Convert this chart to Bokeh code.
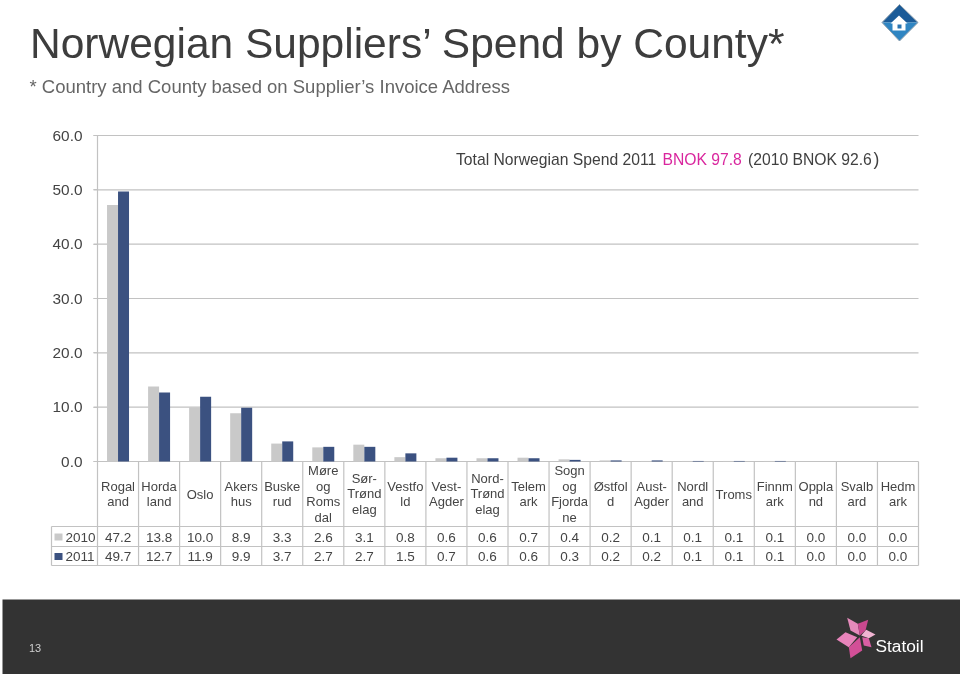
from bokeh.plotting import figure
from bokeh.models import Range1d, LinearAxis, FixedTicker, NumeralTickFormatter
from bokeh.core.properties import value
from bokeh.embed import file_html
from bokeh.resources import INLINE

counties = ["Rogal\nand", "Horda\nland", "Oslo", "Akers\nhus", "Buske\nrud", "Møre\nog\nRoms\ndal",
            "Sør-\nTrønd\nelag", "Vestfo\nld", "Vest-\nAgder", "Nord-\nTrønd\nelag", "Telem\nark",
            "Sogn\nog\nFjorda\nne", "Østfol\nd", "Aust-\nAgder", "Nordl\nand", "Troms", "Finnm\nark",
            "Oppla\nnd", "Svalb\nard", "Hedm\nark"]
v2010 = [47.2, 13.8, 10.0, 8.9, 3.3, 2.6, 3.1, 0.8, 0.6, 0.6, 0.7, 0.4, 0.2, 0.1, 0.1, 0.1, 0.1, 0.0, 0.0, 0.0]
v2011 = [49.7, 12.7, 11.9, 9.9, 3.7, 2.7, 2.7, 1.5, 0.7, 0.6, 0.6, 0.3, 0.2, 0.2, 0.1, 0.1, 0.1, 0.0, 0.0, 0.0]
y_ticks = [0, 10, 20, 30, 40, 50, 60]
series_names = ["2010", "2011"]

W, H = 960, 674
PX0, STEP = 97.0, 41.05      # page x of first category edge, width of a category
PY0, UNIT = 461.0, 5.433     # page y of value 0, pixels per value unit
C10, C11 = "#c9c9c9", "#3b5180"
LINE = "#c2c2c2"
TXT = "#454545"
FONT = "Liberation Sans"

p = figure(width=W, height=H, output_backend="svg", toolbar_location=None,
           x_range=Range1d(-PX0 / STEP, (W - PX0) / STEP),
           y_range=Range1d((PY0 - H) / UNIT, PY0 / UNIT),
           min_border=0, min_border_left=0, min_border_right=0, min_border_top=0, min_border_bottom=0,
           x_axis_type=None, y_axis_type=None, outline_line_color=None)
p.styles = {"position": "fixed", "left": "0px", "top": "0px"}
p.grid.visible = False
p.extra_x_ranges["px"] = Range1d(0, W)
p.extra_y_ranges["px"] = Range1d(H, 0)
PXK = dict(x_range_name="px", y_range_name="px")

def txt(x, y, s, size, color, align="left", base="middle", **kw):
    p.text(x=[x], y=[y], text=[s], text_font=value(FONT), text_font_size=f"{size}px",
           text_color=color, text_align=align, text_baseline=base, **PXK, **kw)

# grid lines (y in values, x in page pixels)
p.segment(x0=[93] * len(y_ticks), x1=[918] * len(y_ticks), y0=y_ticks, y1=y_ticks,
          line_color=LINE, line_width=1.2, x_range_name="px")

# bars
n = len(counties)
bw = 11.0 / STEP
p.vbar(x=[i + 0.5 - bw / 2 for i in range(n)], top=v2010, bottom=0, width=bw, fill_color=C10, line_color=None)
p.vbar(x=[i + 0.5 + bw / 2 for i in range(n)], top=v2011, bottom=0, width=bw, fill_color=C11, line_color=None)

# y axis
ax = LinearAxis(fixed_location=0, bounds=(0, 60), ticker=FixedTicker(ticks=y_ticks),
                formatter=NumeralTickFormatter(format="0.0"),
                axis_line_color=LINE, axis_line_width=1.2, major_tick_line_color=LINE, major_tick_in=0,
                major_tick_out=4, minor_tick_line_color=None, major_label_standoff=11,
                major_label_text_font=FONT, major_label_text_font_size="15.4px",
                major_label_text_color="#444444")
p.add_layout(ax, "left")

# data table
T0, T1, T2, T3 = PY0, 526, 546, 565
edges = [PX0 + STEP * i for i in range(n + 1)]
p.segment(x0=edges, x1=edges, y0=[T0] * (n + 1), y1=[T3] * (n + 1), line_color=LINE, line_width=1.2, **PXK)
p.segment(x0=[51, 51, 51], x1=[918] * 3, y0=[T1, T2, T3], y1=[T1, T2, T3], line_color=LINE, line_width=1.2, **PXK)
p.segment(x0=[51], x1=[51], y0=[T1], y1=[T3], line_color=LINE, line_width=1.2, **PXK)
cx = [PX0 + STEP * (i + 0.5) for i in range(n)]
p.text(x=cx, y=[493.5] * n, text=counties, text_font=value(FONT), text_font_size="13px", text_color=TXT,
       text_align="center", text_baseline="middle", text_line_height=1.04, **PXK)
p.text(x=cx, y=[536.5] * n, text=[f"{v:.1f}" for v in v2010], text_font=value(FONT), text_font_size="13.5px",
       text_color=TXT, text_align="center", text_baseline="middle", **PXK)
p.text(x=cx, y=[556] * n, text=[f"{v:.1f}" for v in v2011], text_font=value(FONT), text_font_size="13.5px",
       text_color=TXT, text_align="center", text_baseline="middle", **PXK)
p.quad(left=[54, 54], right=[62, 62], top=[533, 552.5], bottom=[540, 559.5], fill_color=[C10, C11], line_color=None, **PXK)
txt(65, 536.5, series_names[0], 13.5, TXT)
txt(65, 556, series_names[1], 13.5, TXT)

# titles
txt(29.5, 42.5, "Norwegian Suppliers’ Spend by County*", 42.5, "#3d3d3d")
txt(29, 86, "* Country and County based on Supplier’s Invoice Address", 18.5, "#666666")

# annotation
txt(455.5, 159, "Total Norwegian Spend 2011", 15.7, "#404040")
txt(662, 159, "BNOK 97.8", 15.7, "#d9269e")
txt(747.5, 159, "(2010 BNOK 92.6", 15.7, "#404040")
txt(873, 158.5, ")", 17.5, "#404040")

# footer
p.quad(left=[2], right=[960], top=[599], bottom=[674], fill_color="#333333", line_color=None, **PXK)
txt(28.5, 647.5, "13", 11, "#cfcfcf")

# Statoil logo
star = [
    ([859.3, 850, 846.7, 857.3], [635, 630, 617.3, 623.3], "#e58abb"),
    ([859.3, 857.3, 867.7, 865], [635, 623.3, 619.3, 630], "#c9488f"),
    ([860.7, 865.7, 875, 868.3], [635, 629.3, 634, 637.7], "#f0b4d2"),
    ([861.7, 868.3, 871, 863.3], [636.7, 637.7, 646.7, 645], "#d85fa3"),
    ([859.3, 861.7, 850, 848.3], [636.7, 650, 657.7, 646.7], "#d24f97"),
    ([856.7, 848.3, 836, 845], [636.7, 646.7, 639, 631.7], "#e884bb"),
]
for xs, ys, c in star:
    p.patch(x=xs, y=ys, fill_color=c, line_color=None, **PXK)
txt(875, 645.5, "Statoil", 17.3, "#ffffff")

# home icon
p.patch(x=[899, 917.5, 881.5], y=[4, 22, 22], fill_color="#1b5b98", line_color=None, **PXK)
p.patch(x=[899, 917.5, 881.5], y=[40.5, 22, 22], fill_color="#2f85c2", line_color=None, **PXK)
p.patch(x=[899, 917.5, 899, 881.5], y=[4, 22, 40.5, 22], fill_color=None, line_color="#8fa0ae", line_width=1, **PXK)
p.patch(x=[898.5, 907, 905, 905, 892, 892, 890], y=[15, 23, 23, 30, 30, 23, 23], fill_color="#ffffff", line_color=None, **PXK)
p.quad(left=[897], right=[901], top=[24], bottom=[28], fill_color="#2a74b0", line_color=None, **PXK)

open("out.html", "w").write(file_html(p, INLINE))
